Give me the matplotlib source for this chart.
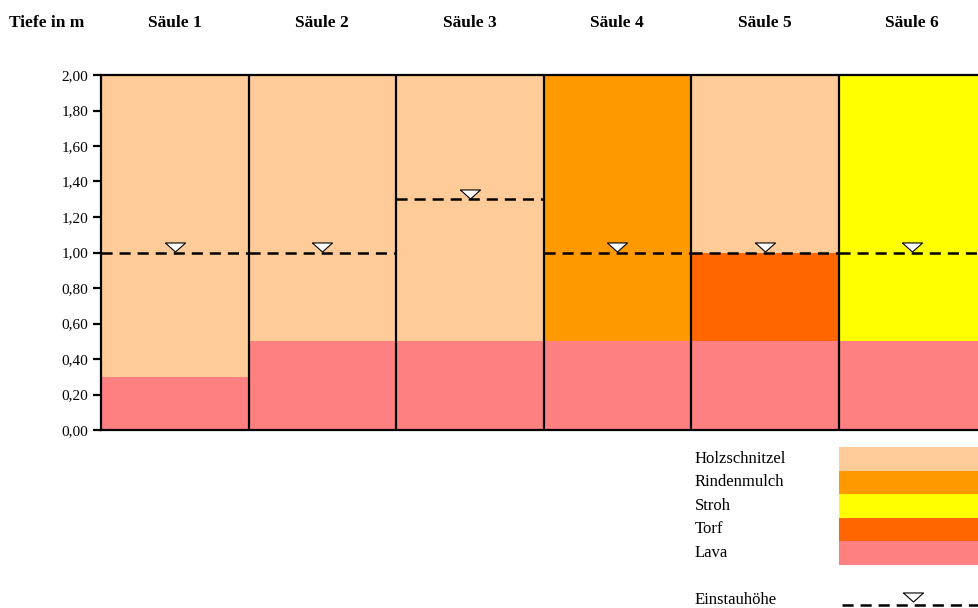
import numpy as np
import matplotlib
matplotlib.use("Agg")
import matplotlib.pyplot as plt
import matplotlib.transforms as mtransforms

plt.rcParams['font.family'] = ['Liberation Serif', 'DejaVu Serif']
plt.rcParams['lines.scale_dashes'] = False

# data
columns = ['Säule 1', 'Säule 2', 'Säule 3', 'Säule 4', 'Säule 5', 'Säule 6']
materials = ['Holzschnitzel', 'Rindenmulch', 'Stroh', 'Torf', 'Lava']
colors = ['#FFCC99', '#FF9900', '#FFFF00', '#FF6600', '#FF8080']
# layers per column, bottom to top: (material, thickness in m)
layers = [
    [('Lava', 0.3), ('Holzschnitzel', 1.7)],
    [('Lava', 0.5), ('Holzschnitzel', 1.5)],
    [('Lava', 0.5), ('Holzschnitzel', 1.5)],
    [('Lava', 0.5), ('Rindenmulch', 1.5)],
    [('Lava', 0.5), ('Torf', 0.5), ('Holzschnitzel', 1.0)],
    [('Lava', 0.5), ('Stroh', 1.5)],
]
einstau = [1.0, 1.0, 1.3, 1.0, 1.0, 1.0]
yticks = np.arange(0, 2.01, 0.2)

col_of = dict(zip(materials, colors))

fig = plt.figure(figsize=(9.79, 6.08), dpi=100)
ax = fig.add_axes([101/979, 178/608, 885/979, 355/608])

for i, lay in enumerate(layers):
    bottom = 0
    for mat, h in lay:
        ax.bar(i + 0.5, h, width=1.0, bottom=bottom, color=col_of[mat], linewidth=0)
        bottom += h

# column separators
for i in range(1, 6):
    ax.axvline(i, color='black', lw=1.6, zorder=3)

# Einstauhöhe lines and triangles
tri = [(-1, 0.45), (1, 0.45), (0, -0.45), (-1, 0.45)]
off = mtransforms.offset_copy(ax.transData, fig=fig, x=0, y=4, units='points')
for i, lev in enumerate(einstau):
    ax.plot([i, i + 1], [lev, lev], color='black', lw=1.8, dashes=(8, 5), zorder=4)
    ax.plot([i + 0.5], [lev], marker=tri, markersize=14.5, markerfacecolor='white',
            markeredgecolor='black', markeredgewidth=0.8, transform=off, zorder=5)

ax.set_xlim(0, 6)
ax.set_ylim(0, 2)
ax.set_xticks([])
ax.set_yticks(yticks)
ax.set_yticklabels([f'{v:.2f}'.replace('.', ',') for v in yticks], fontsize=11)
ax.tick_params(axis='y', length=6, width=1.6, pad=3)
for s in ['left', 'top', 'bottom']:
    ax.spines[s].set_linewidth(1.6)
ax.spines['right'].set_visible(False)

# headers
tr = mtransforms.blended_transform_factory(ax.transData, fig.transFigure)
for i, name in enumerate(columns):
    ax.text(i + 0.5, 1 - 23/608, name, transform=tr, ha='center', va='center',
            fontsize=12.5, fontweight='bold')
fig.text(47/979, 1 - 23/608, 'Tiefe in m', ha='center', va='center',
         fontsize=12.5, fontweight='bold')

# legend
lax = fig.add_axes([690/979, 0, 289/979, 168/608])
lax.set_xlim(0, 289)
lax.set_ylim(6.85, -0.3)
lax.axis('off')
for r, (mat, c) in enumerate(zip(materials, colors)):
    lax.bar(219, 1.0, width=140, bottom=r, color=c, linewidth=0)
    lax.text(5, r + 0.5, mat, ha='left', va='center', fontsize=12)
lax.text(5, 6.5, 'Einstauhöhe', ha='left', va='center', fontsize=12)
lax.plot([152, 289], [6.72, 6.72], color='black', lw=1.8, dashes=(8, 5))
lax.plot([223], [6.72], marker=tri, markersize=14.5, markerfacecolor='white',
         markeredgecolor='black', markeredgewidth=0.8,
         transform=mtransforms.offset_copy(lax.transData, fig=fig, x=0, y=6, units='points'))

fig.savefig('out.png', dpi=100)
